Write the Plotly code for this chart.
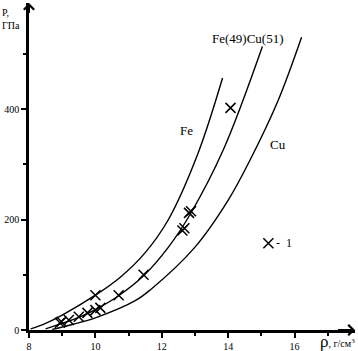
import plotly.graph_objects as go

# Curves: density (g/cm^3) vs pressure (GPa)
fe_rho = [8.05, 8.5, 9.0, 10.0, 10.76, 11.5, 12.2, 13.08, 13.83]
fe_p = [2, 12, 27, 63, 96, 140, 200, 318, 456]

fecu_rho = [8.5, 9.0, 9.5, 10.0, 10.7, 11.45, 12.2, 12.86, 13.86, 15.03]
fecu_p = [2, 12, 23, 37, 62, 98, 150, 210, 327, 513]

cu_rho = [8.7, 9.3, 10.0, 11.2, 11.66, 13.0, 14.0, 14.67, 15.5, 16.21]
cu_p = [1, 10, 22, 53, 73, 150, 235, 309, 415, 530]

# Experimental points (1)
exp_rho = [8.93, 8.98, 9.2, 9.5, 9.76, 10.0, 10.15, 10.0, 10.7, 11.45,
           12.62, 12.68, 12.82, 12.88, 14.07]
exp_p = [13, 15, 18, 24, 31, 36, 40, 63, 63, 100,
         180, 184, 212, 215, 402]

curve_labels = ["Fe", "Fe(49)Cu(51)", "Cu"]
label_rho = [12.75, 14.6, 15.5]
label_p = [362, 528, 335]

legend_rho = [15.21]
legend_p = [157]

x_ticks = [8, 10, 12, 14, 16]
y_ticks = [0, 200, 400]

fig = go.Figure()
for r, p in [(fe_rho, fe_p), (fecu_rho, fecu_p), (cu_rho, cu_p)]:
    fig.add_trace(go.Scatter(x=r, y=p, mode="lines",
                             line=dict(color="black", width=1.4, shape="spline", smoothing=1.0),
                             hoverinfo="skip", showlegend=False))

fig.add_trace(go.Scatter(x=exp_rho, y=exp_p, mode="markers",
                         marker=dict(symbol="x-thin", size=10, line=dict(color="black", width=1.5)),
                         showlegend=False, cliponaxis=False))
fig.add_trace(go.Scatter(x=legend_rho, y=legend_p, mode="markers",
                         marker=dict(symbol="x-thin", size=10, line=dict(color="black", width=1.5)),
                         showlegend=False, cliponaxis=False))

serif = "Liberation Serif"
for t, r, p in zip(curve_labels, label_rho, label_p):
    fig.add_annotation(x=r, y=p, text=t, showarrow=False,
                       font=dict(family=serif, size=13, color="black"))

fig.add_annotation(x=15.39, y=legend_p[0], text="-  1", showarrow=False, xanchor="left",
                   font=dict(family=serif, size=12, color="black"))

# axis titles
fig.add_annotation(xref="paper", yref="paper", x=-0.089, y=0.995, text="P,<br>ГПа",
                   showarrow=False, xanchor="left", yanchor="top", align="left",
                   font=dict(family=serif, size=10, color="black"))
fig.add_annotation(xref="paper", yref="paper", x=1.006, y=-0.034,
                   text="<span style='font-size:17px'>ρ</span>, г/см<sup>3</sup>",
                   showarrow=False, xanchor="right", yanchor="middle",
                   font=dict(family=serif, size=10, color="black"))

# axis arrows
fig.add_annotation(xref="paper", yref="paper", x=1.0, y=0.0, text=" ", showarrow=True,
                   ax=-20, ay=0, arrowhead=4, arrowsize=1, arrowwidth=2, arrowcolor="black", standoff=0)
fig.add_annotation(xref="paper", yref="paper", x=0.0, y=1.0, text=" ", showarrow=True,
                   ax=0, ay=20, arrowhead=4, arrowsize=1, arrowwidth=2, arrowcolor="black", standoff=0)

fig.update_xaxes(range=[8, 8 + 326 / 33.2], tickvals=x_ticks, ticktext=[str(v) for v in x_ticks],
                 automargin=False,
                 showline=True, linecolor="black", linewidth=2.5, showgrid=False, zeroline=False,
                 ticks="outside", ticklen=5, tickwidth=1.5, tickcolor="black",
                 minor=dict(tickvals=[9, 11, 13, 15, 17], ticks="outside", ticklen=3, tickwidth=1.5, tickcolor="black"),
                 tickfont=dict(family=serif, size=10, color="black"))
fig.update_yaxes(range=[0, 327 / 0.5525], tickvals=y_ticks, ticktext=[str(v) for v in y_ticks],
                 automargin=False,
                 showline=True, linecolor="black", linewidth=2.5, showgrid=False, zeroline=False,
                 ticks="outside", ticklen=5, tickwidth=1.5, tickcolor="black",
                 minor=dict(tickvals=[100, 300, 500], ticks="outside", ticklen=3, tickwidth=1.5, tickcolor="black"),
                 tickfont=dict(family=serif, size=10, color="black"))

fig.update_layout(width=358, height=351, margin=dict(l=29, r=3, t=3, b=21),
                  plot_bgcolor="white", paper_bgcolor="white", showlegend=False)

fig.write_html("out.html", config={"displayModeBar": False},
               post_script="document.body.style.margin='0';document.body.style.overflow='hidden';")
